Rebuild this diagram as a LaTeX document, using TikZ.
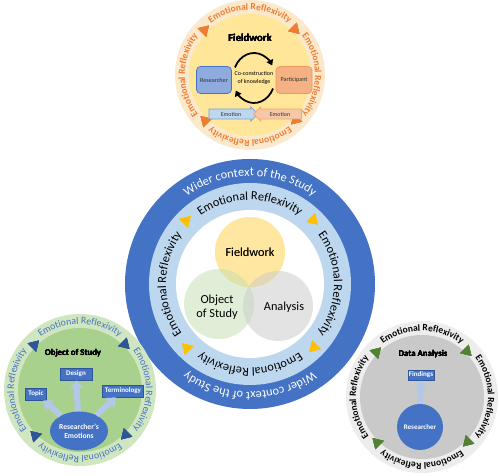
\documentclass[tikz,border=0pt]{standalone}
\usepackage{fontspec}
\setmainfont{Carlito}
\usetikzlibrary{calc,arrows.meta,shapes.geometric,shapes.arrows,decorations.text}
\definecolor{ctxblue}{HTML}{4472C4}
\definecolor{ringblue}{HTML}{BDD7EE}
\definecolor{ergold}{HTML}{FFC000}
\definecolor{fwring}{HTML}{FCE9CC}
\definecolor{fwfill}{HTML}{FFE699}
\definecolor{fwvenn}{HTML}{FFD966}
\definecolor{fworange}{HTML}{ED7D31}
\definecolor{osring}{HTML}{CFE6C0}
\definecolor{osfill}{HTML}{A9D18E}
\definecolor{osdark}{HTML}{2F5597}
\definecolor{daring}{HTML}{EDEDED}
\definecolor{dafill}{HTML}{C9C9C9}
\definecolor{dagreen}{HTML}{548235}
\definecolor{arrowgrey}{HTML}{B4C7E7}
\definecolor{resblue}{HTML}{8FAADC}
\definecolor{partorange}{HTML}{F4B183}
\tikzstyle{venn} = [circle, minimum size=14mm, fill opacity=0.5, text opacity=1, align=center,
    font=\fontsize{7}{8}\selectfont]
\tikzstyle{title} = [font=\bfseries\fontsize{6}{7}\selectfont]
\tikzstyle{block} = [rectangle, draw=osdark, fill=ctxblue, text=white, inner sep=0pt,
    minimum height=2.4mm, font=\bfseries\fontsize{4}{5}\selectfont]
\tikzstyle{person} = [rectangle, rounded corners=0.8mm, minimum width=7mm, minimum height=5.4mm,
    inner sep=0pt, text=black!80, font=\fontsize{3.5}{4}\selectfont]
\tikzstyle{emoarrow} = [single arrow, single arrow head extend=0.45mm, inner xsep=0.8mm,
    inner ysep=0.5mm, text=black!80, font=\fontsize{3.4}{4}\selectfont]
\tikzstyle{fat} = [draw=arrowgrey, line width=1.2mm, -{Triangle[width=2.6mm,length=1.6mm]}]
\tikzstyle{cyc} = [draw=black, line width=0.35mm, -{Triangle[width=1.4mm,length=1.1mm]}]
% ring text: centre, radius, mid angle, half span, font, colour, text
\newcommand{\ringlabel}[7]{%
  \path[decorate,decoration={text along path,text align=center,text color=#6,text={|#5|#7}}]
    (#1) ++(#3+#4:#2) arc[start angle=#3+#4,end angle=#3-#4,radius=#2];}
% clockwise triangles: centre, radius, colour
\newcommand{\ringtris}[3]{%
  \foreach \a in {45,135,225,315}
    \fill[#3,shift={($(#1)+(\a:#2)$)},rotate=\a] (0,-6) -- (6,4) -- (-6,4) -- cycle;}
\newcommand{\mainfont}{\fontsize{7}{8}\selectfont}
\newcommand{\satfont}{\bfseries\fontsize{5.4}{6}\selectfont}
\newcommand{\osfont}{\fontsize{5.6}{6}\selectfont}

\begin{document}
\begin{tikzpicture}[x=0.2mm,y=0.2mm]
    \useasboundingbox (0,0) rectangle (500,476);
    \coordinate (ctx) at (250,192);
    \coordinate (fw) at (250,401);
    \coordinate (os) at (80,86);
    \coordinate (da) at (422,79);
    % Centre circle
    \fill[ctxblue] (ctx) circle[radius=125];
    \fill[ringblue] (ctx) circle[radius=101];
    \fill[white] (ctx) circle[radius=74];
    \ringlabel{ctx}{108}{90}{60}{\mainfont}{white}{Wider context of the Study}
    \ringlabel{ctx}{108}{-90}{60}{\mainfont}{white}{Wider context of the Study}
    \foreach \m in {90,0,-90,180}
      \ringlabel{ctx}{84}{\m}{55}{\mainfont}{black}{Emotional Reflexivity}
    \ringtris{ctx}{90}{ergold}
    \node[venn, fill=fwvenn!65] (vfw) at (250,224) {Fieldwork};
    \node[venn, fill=osfill!70] (vos) at (219,172) {};
    \node[venn, fill=dafill] (vda) at (278,170) {};
    \node[align=center, font=\mainfont] (tos) at (217,169) {Object\\of Study};
    \node[font=\mainfont] (tda) at (284,169) {Analysis};
    % Fieldwork circle
    \fill[fwring] (fw) circle[radius=75];
    \fill[fwfill] (fw) circle[radius=61];
    \foreach \m in {90,0,-90,180}
      \ringlabel{fw}{65}{\m}{55}{\satfont}{fworange}{Emotional Reflexivity}
    \ringtris{fw}{64}{fworange}
    \node[title] (fwtitle) at (250,438) {Fieldwork};
    \node[person, draw=ctxblue, fill=resblue] (res) at (214,396) {Researcher};
    \node[person, draw=fworange!80, fill=partorange, minimum width=7.2mm] (part) at (294,396) {Participant};
    \node[align=center, inner sep=0pt, font=\fontsize{3.4}{4.2}\selectfont] (cok) at (254,398) {Co-construction\\of knowledge};
    \draw[cyc] ($(cok)+(155:21 and 25)$) arc[start angle=155,end angle=30,x radius=21,y radius=25];
    \draw[cyc] ($(cok)+(-25:21 and 25)$) arc[start angle=-25,end angle=-150,x radius=21,y radius=25];
    \node[emoarrow, draw=ctxblue!70, fill=ringblue, minimum height=9.8mm] (emol) at (231,362) {Emotion};
    \node[emoarrow, draw=fworange!70, fill=partorange!70, minimum height=9.6mm,
        shape border rotate=180] (emor) at (280,362) {Emotion};
    % Object of Study circle
    \fill[osring] (os) circle[radius=76];
    \fill[osfill] (os) circle[radius=62];
    \foreach \m in {90,0,-90,180}
      \ringlabel{os}{66}{\m}{55}{\osfont}{ctxblue}{Emotional Reflexivity}
    \ringtris{os}{64}{osdark}
    \node[title, font=\bfseries\fontsize{5}{6}\selectfont] (ostitle) at (73,123) {Object of Study};
    \node[block, minimum width=6.4mm] (design) at (76,102) {Design};
    \node[block, minimum width=4.2mm] (topic) at (36,82) {Topic};
    \node[block, minimum width=8.2mm] (term) at (123,85) {Terminology};
    \node[ellipse, fill=ctxblue, text=white, minimum width=11.6mm, minimum height=7.8mm,
        inner sep=0pt, align=center, font=\bfseries\fontsize{4.3}{5.2}\selectfont] (emo) at (79,45) {Researcher's\\Emotions};
    \draw[fat] (emo) -- (design);
    \draw[fat] (emo) -- (topic);
    \draw[fat] (emo) -- (term);
    % Data Analysis circle
    \fill[daring] (da) circle[radius=76];
    \fill[dafill] (da) circle[radius=62];
    \foreach \m in {90,0,-90,180}
      \ringlabel{da}{66}{\m}{55}{\satfont}{black}{Emotional Reflexivity}
    \ringtris{da}{64}{dagreen}
    \node[title, font=\bfseries\fontsize{5}{6}\selectfont] (datitle) at (423,122) {Data Analysis};
    \node[block, minimum width=5.2mm, minimum height=2mm] (find) at (421,101) {Findings};
    \node[circle, fill=ctxblue, text=white, minimum size=9.2mm, inner sep=0pt,
        font=\bfseries\fontsize{4}{5}\selectfont] (rsr) at (420,49) {Researcher};
    \draw[fat] (rsr) -- (find);
\end{tikzpicture}
\end{document}
